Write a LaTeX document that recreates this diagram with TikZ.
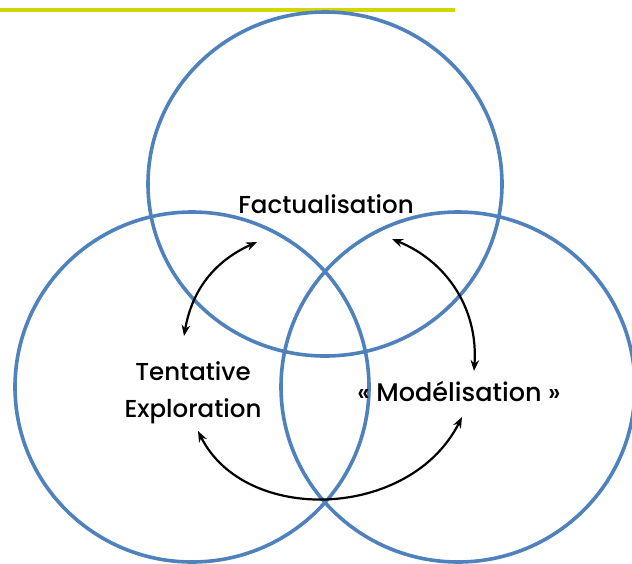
\documentclass[tikz,border=0pt]{standalone}
\usepackage{fontspec}
\setmainfont{Poppins Medium}
\usetikzlibrary{arrows.meta}
\definecolor{ringblue}{RGB}{79,129,189}
\definecolor{topline}{RGB}{212,214,0}
\tikzset{
  ring/.style={draw=ringblue,line width=3.6pt},
  lbl/.style={font=\fontsize{24.5}{37}\selectfont,align=center,inner sep=0pt},
  link/.style={line width=2.2pt,{Stealth[length=11pt,width=8.5pt]}-{Stealth[length=11pt,width=8.5pt]}}
}
\begin{document}
\begin{tikzpicture}[x=1pt,y=-1pt]
\useasboundingbox (0,0) rectangle (632,563);
\draw[topline,line width=3.5pt] (0,10) -- (455,10);
\draw[ring] (325,184) ellipse [x radius=177,y radius=172];
\draw[ring] (192,387) ellipse [x radius=177,y radius=175];
\draw[ring] (458,387) ellipse [x radius=177,y radius=175];
\node[lbl] (fact) at (326,204) {Factualisation};
\node[lbl] (tent) at (193,393) {Tentative\\Exploration};
\node[lbl,font=\fontsize{25.5}{30}\selectfont] (mod) at (459,391) {« Modélisation »};
\coordinate (a1) at (184,336);
\coordinate (a2) at (257,242);
\coordinate (b1) at (392,239);
\coordinate (b2) at (474,371);
\coordinate (c1) at (198,431);
\coordinate (c2) at (462,417);
\draw[link] (a1) to[bend left=28] (a2);
\draw[link] (b1) to[bend left=36] (b2);
\draw[link] (c1) .. controls (245,525) and (410,520) .. (c2);
\end{tikzpicture}
\end{document}
